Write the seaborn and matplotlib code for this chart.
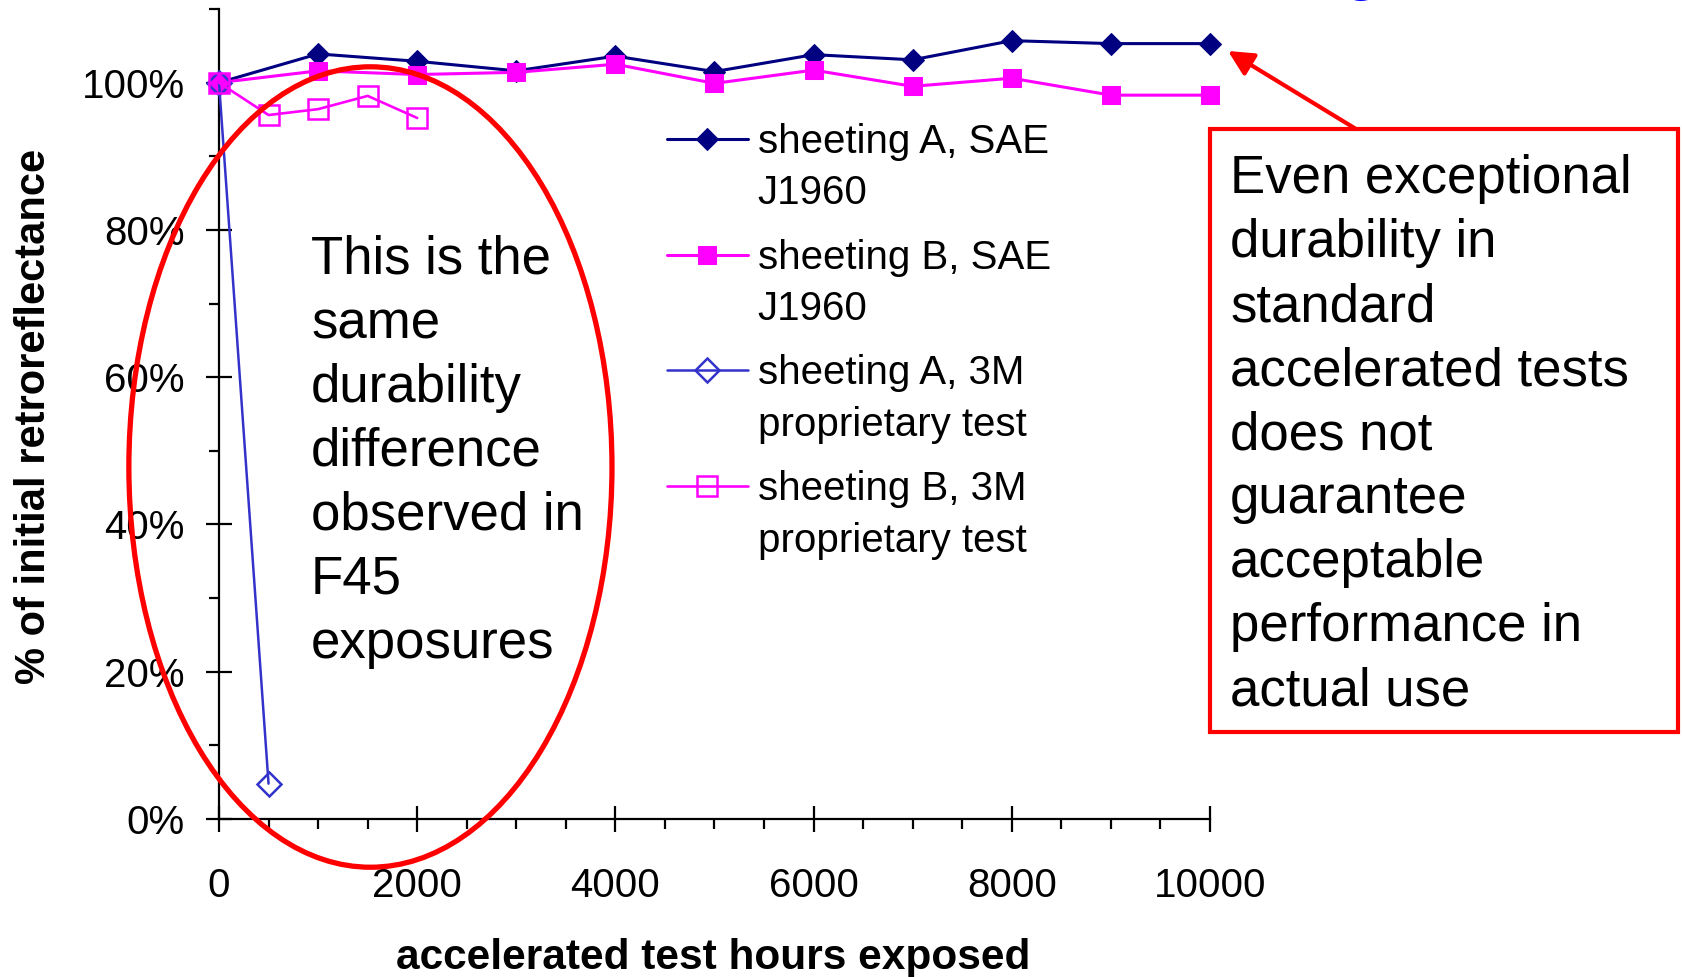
import matplotlib
matplotlib.use("Agg")
import matplotlib.pyplot as plt
import seaborn as sns
import pandas as pd
from matplotlib.patches import Ellipse, Rectangle
from matplotlib.ticker import MultipleLocator, FuncFormatter

# --- data: percent of initial retroreflectance vs. accelerated test hours ---
hours_sae = [0, 1000, 2000, 3000, 4000, 5000, 6000, 7000, 8000, 9000, 10000]
sheeting_a_sae = [100, 103.9, 102.9, 101.6, 103.6, 101.5, 103.8, 103.1, 105.7, 105.3, 105.3]
sheeting_b_sae = [100, 101.6, 101.1, 101.4, 102.5, 99.9, 101.7, 99.5, 100.6, 98.3, 98.3]

hours_a_3m = [0, 500]
sheeting_a_3m = [100, 4.8]

hours_b_3m = [0, 500, 1000, 1500, 2000]
sheeting_b_3m = [100, 95.6, 96.4, 98.2, 95.2]

# legend labels, each split over two lines
label_first = ["sheeting A, SAE", "sheeting B, SAE",
               "sheeting A, 3M", "sheeting B, 3M"]
label_second = ["J1960", "J1960", "proprietary test", "proprietary test"]

ellipse_lines = ["This is the", "same", "durability", "difference",
                 "observed in", "F45", "exposures"]
box_lines = ["Even exceptional", "durability in", "standard",
             "accelerated tests", "does not", "guarantee", "acceptable",
             "performance in", "actual use"]

sns.set_style("white")
plt.rcParams["font.family"] = ["Liberation Sans", "DejaVu Sans"]
plt.rcParams["text.color"] = "black"
plt.rcParams["axes.labelcolor"] = "black"
plt.rcParams["xtick.color"] = "black"
plt.rcParams["ytick.color"] = "black"

W, H = 1683, 977
fig = plt.figure(figsize=(W / 100, H / 100), dpi=100)


def fx(px):
    return px / W


def fy(py):
    return 1 - py / H


ax = fig.add_axes([fx(219), fy(819), fx(1210) - fx(219), fy(9) - fy(819)])

NAVY = "#000080"
MAGENTA = "#FF00FF"
BLUE = "#3333CC"
RED = "#FF0000"

series = [
    (hours_sae, sheeting_a_sae, label_first[0],
     dict(color=NAVY, marker="D", markersize=11.5, markerfacecolor=NAVY,
          markeredgecolor=NAVY, linewidth=2.2)),
    (hours_sae, sheeting_b_sae, label_first[1],
     dict(color=MAGENTA, marker="s", markersize=13, markerfacecolor=MAGENTA,
          markeredgecolor=MAGENTA, linewidth=2.2)),
    (hours_a_3m, sheeting_a_3m, label_first[2],
     dict(color=BLUE, marker="D", markersize=12, markerfacecolor="none",
          markeredgecolor=BLUE, markeredgewidth=1.8, linewidth=1.8)),
    (hours_b_3m, sheeting_b_3m, label_first[3],
     dict(color=MAGENTA, marker="s", markersize=14.5, markerfacecolor="none",
          markeredgecolor=MAGENTA, markeredgewidth=1.8, linewidth=1.9)),
]

for hrs, vals, lab, style in series:
    df = pd.DataFrame({"hours": hrs, "pct": vals})
    sns.lineplot(data=df, x="hours", y="pct", label=lab, ax=ax,
                 clip_on=False, zorder=3, **style)

ax.set_xlim(0, 10000)
ax.set_ylim(0, 110)

# axes frame: only left and bottom
for side in ("top", "right"):
    ax.spines[side].set_visible(False)
for side in ("left", "bottom"):
    ax.spines[side].set_color("black")
    ax.spines[side].set_linewidth(1.6)

ax.xaxis.set_major_locator(MultipleLocator(2000))
ax.xaxis.set_minor_locator(MultipleLocator(500))
ax.yaxis.set_major_locator(MultipleLocator(20))
ax.yaxis.set_minor_locator(MultipleLocator(10))
ax.yaxis.set_major_formatter(FuncFormatter(lambda v, p: f"{v:.0f}%" if v <= 100 else ""))

ax.tick_params(which="both", bottom=True, left=True, top=False, right=False)
ax.tick_params(axis="x", which="major", direction="inout", length=19, width=1.6,
               pad=25, labelsize=29, colors="black")
ax.tick_params(axis="x", which="minor", direction="out", length=7, width=1.6)
ax.tick_params(axis="y", which="major", direction="inout", length=19, width=1.6,
               pad=15, labelsize=29, colors="black")
ax.tick_params(axis="y", which="minor", direction="out", length=7, width=1.6)

ax.set_xlabel("")
ax.set_ylabel("")
fig.text(fx(713), fy(958), "accelerated test hours exposed", fontsize=30.5,
         fontweight="bold", ha="center", va="center")
fig.text(fx(34), fy(416), "% of initial retroreflectance", fontsize=30,
         fontweight="bold", ha="center", va="center", rotation=90)

# legend: handles sit beside the first line of each label
leg = ax.legend(loc="upper left", bbox_to_anchor=(fx(667), fy(123)),
                bbox_transform=fig.transFigure, frameon=False, fontsize=29,
                handlelength=2.0, handletextpad=0.25, labelspacing=1.93,
                borderpad=0, borderaxespad=0)

# red ellipse around the early exposures
ell = Ellipse((1528, 47.8), width=4875, height=108.7, fill=False,
              edgecolor=RED, linewidth=3.8, clip_on=False, zorder=4)
ax.add_patch(ell)

for i, line in enumerate(ellipse_lines):
    fig.text(fx(311), fy(274 + 64 * i), line, fontsize=38, ha="left",
             va="baseline")

# red callout box
box = Rectangle((fx(1210), fy(732)), fx(1678) - fx(1210), fy(129) - fy(732),
                transform=fig.transFigure, fill=False, edgecolor=RED,
                linewidth=3.0, zorder=5)
fig.add_artist(box)
for i, line in enumerate(box_lines):
    fig.text(fx(1230), fy(193 + 64 * i), line, fontsize=38, ha="left",
             va="baseline")

ax.annotate("", xy=(fx(1228), fy(51)), xycoords="figure fraction",
            xytext=(fx(1356), fy(129)), textcoords="figure fraction",
            arrowprops=dict(arrowstyle="-|>", color=RED, lw=3.0,
                            mutation_scale=38, shrinkA=0, shrinkB=0))

# descender of the slide title above the plot
fig.text(fx(1361), fy(-12), "g", fontsize=44, color="#0000FF",
         fontweight="bold", ha="center", va="baseline")

# second line of each legend label, placed under the laid-out first line
fig.canvas.draw()
for txt, second in zip(leg.get_texts(), label_second):
    bb = txt.get_window_extent()
    fig.text(bb.x0 / W, (bb.y0 - 43.5) / H, second, fontsize=29,
             ha="left", va="baseline")

fig.savefig("out.png", dpi=100)
